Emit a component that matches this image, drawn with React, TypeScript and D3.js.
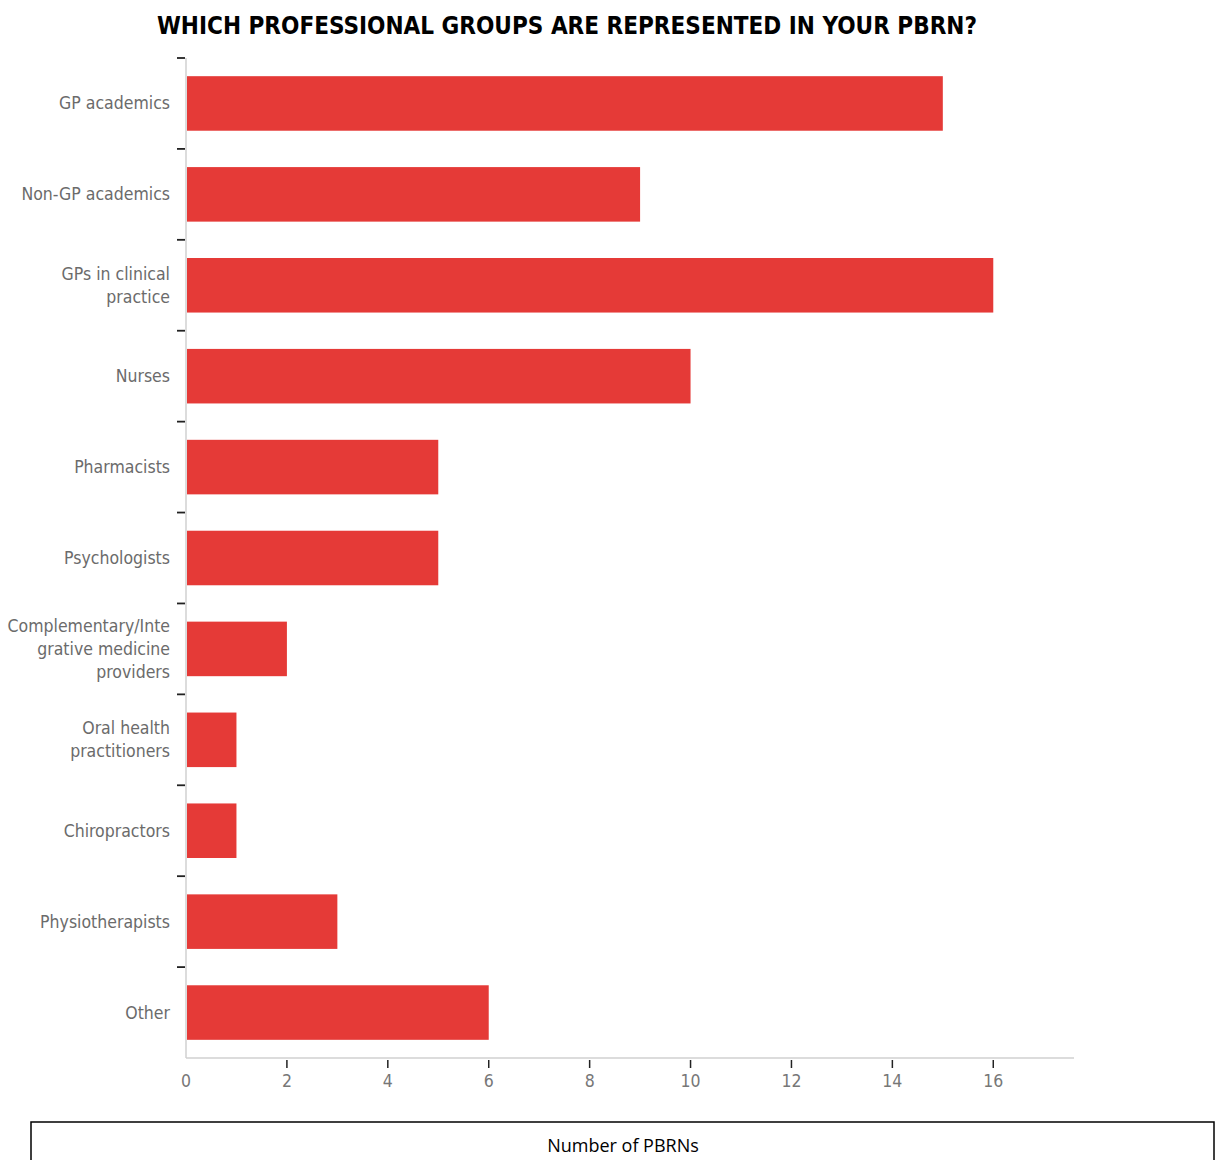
import React, { useEffect, useRef } from "react";
import * as d3 from "d3";

const categories = [
  "GP academics",
  "Non-GP academics",
  "GPs in clinical practice",
  "Nurses",
  "Pharmacists",
  "Psychologists",
  "Complementary/Integrative medicine providers",
  "Oral health practitioners",
  "Chiropractors",
  "Physiotherapists",
  "Other",
];
const labelLines = [
  ["GP academics"],
  ["Non-GP academics"],
  ["GPs in clinical", "practice"],
  ["Nurses"],
  ["Pharmacists"],
  ["Psychologists"],
  ["Complementary/Inte", "grative medicine", "providers"],
  ["Oral health", "practitioners"],
  ["Chiropractors"],
  ["Physiotherapists"],
  ["Other"],
];
const values = [15, 9, 16, 10, 5, 5, 2, 1, 1, 3, 6];
const xTicks = [0, 2, 4, 6, 8, 10, 12, 14, 16];
const title = "WHICH PROFESSIONAL GROUPS ARE REPRESENTED IN YOUR PBRN?";
const xTitle = "Number of PBRNs";

export default function App() {
  const ref = useRef<SVGSVGElement>(null);
  useEffect(() => {
    const svg = d3.select(ref.current);
    svg.selectAll("*").remove();
    const W = 1215, H = 1160;
    const x = d3.scaleLinear().domain([0, 17.6]).range([186, 1074]);
    const y = d3.scaleBand<string>().domain(categories).range([58, 1058]).paddingInner(0.4).paddingOuter(0.2);
    const labelFont = "'DejaVu Sans Condensed', 'Liberation Sans Narrow', 'Roboto', sans-serif";

    svg.append("rect").attr("width", W).attr("height", H).attr("fill", "#fff");

    svg.append("text")
      .attr("x", 567).attr("y", 34)
      .attr("text-anchor", "middle")
      .attr("font-family", "'Liberation Sans Narrow', 'DejaVu Sans Condensed', 'Open Sans', sans-serif")
      .attr("font-weight", 700)
      .attr("font-size", 25)
      .attr("textLength", 820)
      .attr("lengthAdjust", "spacingAndGlyphs")
      .attr("fill", "#000")
      .text(title);

    // bars
    svg.append("g").selectAll("rect").data(categories).join("rect")
      .attr("x", x(0) + 1)
      .attr("y", (d) => y(d)!)
      .attr("width", (d, i) => x(values[i]) - x(0) - 1)
      .attr("height", y.bandwidth())
      .attr("fill", "#e53a37");

    // y axis line
    svg.append("line").attr("x1", 186).attr("x2", 186).attr("y1", 58).attr("y2", 1058)
      .attr("stroke", "#d0d0d0").attr("stroke-width", 1.5);
    // x axis line
    svg.append("line").attr("x1", 186).attr("x2", x(17.6)).attr("y1", 1058).attr("y2", 1058)
      .attr("stroke", "#d0d0d0").attr("stroke-width", 1.5);

    // y ticks at band boundaries
    const step = y.step();
    svg.append("g").selectAll("line").data(categories).join("line")
      .attr("x1", 177).attr("x2", 185)
      .attr("y1", (d) => y(d)! - step * 0.2)
      .attr("y2", (d) => y(d)! - step * 0.2)
      .attr("stroke", "#222").attr("stroke-width", 1.8);

    // y labels
    const lh = 23;
    const gl = svg.append("g");
    categories.forEach((c, i) => {
      const lines = labelLines[i];
      const cy = y(c)! + y.bandwidth() / 2;
      const t = gl.append("text")
        .attr("text-anchor", "end")
        .attr("font-family", labelFont)
        .attr("font-size", 17.5)
        .attr("fill", "#6b6b6b");
      lines.forEach((ln, k) => {
        t.append("tspan")
          .attr("x", 170)
          .attr("y", cy + (k - (lines.length - 1) / 2) * lh + 6)
          .text(ln);
      });
    });

    // x ticks
    const gx = svg.append("g");
    xTicks.forEach((v) => {
      if (v > 0) {
        gx.append("line").attr("x1", x(v)).attr("x2", x(v)).attr("y1", 1060).attr("y2", 1068)
          .attr("stroke", "#222").attr("stroke-width", 1.5);
      }
      gx.append("text").attr("x", x(v)).attr("y", 1087)
        .attr("text-anchor", "middle")
        .attr("font-family", labelFont)
        .attr("font-size", 17.5)
        .attr("fill", "#777")
        .text(String(v));
    });

    // bottom box
    svg.append("rect").attr("x", 31).attr("y", 1122).attr("width", 1183).attr("height", 60)
      .attr("fill", "none").attr("stroke", "#000").attr("stroke-width", 1.5);
    svg.append("text").attr("x", 623).attr("y", 1152)
      .attr("text-anchor", "middle")
      .attr("font-family", "'Open Sans', 'Liberation Sans', sans-serif")
      .attr("font-size", 18)
      .attr("fill", "#000")
      .text(xTitle);
  }, []);
  return (
    <svg ref={ref} width={1215} height={1160}
      style={{ position: "absolute", left: 0, top: 0, display: "block" }} />
  );
}
